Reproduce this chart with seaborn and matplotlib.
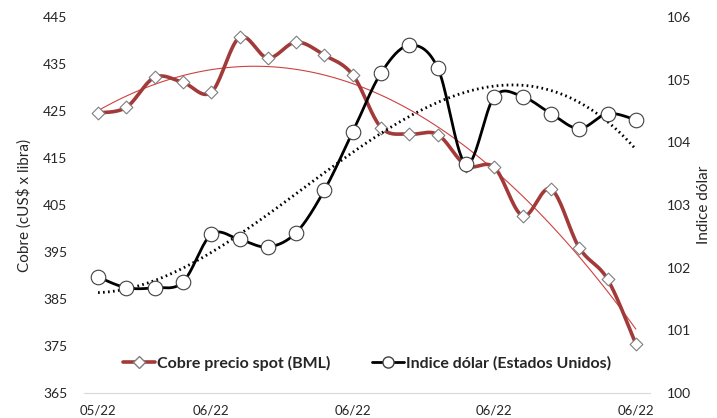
import numpy as np
import pandas as pd
import matplotlib
matplotlib.use('Agg')
import matplotlib.pyplot as plt
import seaborn as sns
from matplotlib.lines import Line2D

# data
cobre = [424.6, 425.8, 432.2, 431.1, 429.0, 440.7, 436.3, 439.7, 436.9, 432.7,
         421.5, 420.1, 420.0, 413.4, 413.0, 402.7, 408.4, 395.9, 389.2, 375.4]
dolar = [101.85, 101.68, 101.68, 101.77, 102.53, 102.45, 102.33, 102.56, 103.24, 104.17,
         105.11, 105.55, 105.19, 103.65, 104.73, 104.73, 104.46, 104.22, 104.46, 104.36]
tick_pos = [0, 4, 9, 14, 19]
tick_labels = ['05/22', '06/22', '06/22', '06/22', '06/22']

sns.set_style('white')
plt.rcParams['font.family'] = ['Lato', 'DejaVu Sans']

x = np.arange(len(cobre))
df = pd.DataFrame({'x': x, 'cobre': cobre, 'dolar': dolar})


def smooth(xv, yv, n=20):
    # Excel-style smoothed line (Catmull-Rom between the points)
    p = np.column_stack([xv, yv]).astype(float)
    p = np.vstack([p[0], p, p[-1]])
    out = []
    t = np.linspace(0, 1, n, endpoint=False)[:, None]
    for i in range(1, len(p) - 2):
        p0, p1, p2, p3 = p[i - 1], p[i], p[i + 1], p[i + 2]
        c1 = p1 + (p2 - p0) / 6
        c2 = p2 - (p3 - p1) / 6
        seg = ((1 - t) ** 3) * p1 + 3 * ((1 - t) ** 2) * t * c1 + 3 * (1 - t) * t ** 2 * c2 + t ** 3 * p2
        out.append(seg)
    out.append(p[-2][None, :])
    out = np.vstack(out)
    return out[:, 0], out[:, 1]


red = '#a33a3a'
fig = plt.figure(figsize=(7.17, 4.18), dpi=100)
ax = fig.add_axes([0.117, 0.06, 0.7896, 0.899])
ax2 = ax.twinx()

# copper series
sx, sy = smooth(df['x'], df['cobre'])
sns.lineplot(x=sx, y=sy, ax=ax, color=red, lw=2.6, sort=False, zorder=3)
sns.regplot(x='x', y='cobre', data=df, order=2, ci=None, scatter=False, ax=ax,
            line_kws={'color': '#d04040', 'lw': 0.8, 'zorder': 2})
ax.scatter(df['x'], df['cobre'], marker='D', s=42, facecolor='white',
           edgecolor='#7f7f7f', linewidth=0.8, zorder=4)

# dollar series
dx, dy = smooth(df['x'], df['dolar'])
sns.lineplot(x=dx, y=dy, ax=ax2, color='black', lw=2.0, sort=False, zorder=3)
sns.regplot(x='x', y='dolar', data=df, order=3, ci=None, scatter=False, ax=ax2,
            line_kws={'color': 'black', 'lw': 2.0, 'ls': (0, (0.6, 1.2)), 'zorder': 2})
ax2.scatter(df['x'], df['dolar'], marker='o', s=110, facecolor='white',
            edgecolor='#404040', linewidth=0.8, zorder=4)

ax.set_xlim(-0.5, 19.5)
ax.set_ylim(365, 445)
ax.set_yticks(np.arange(365, 446, 10))
ax2.set_ylim(100, 106)
ax2.set_yticks(np.arange(100, 107, 1))

ax.set_xticks(tick_pos)
ax.set_xticklabels(tick_labels)
ax.set_xticks(np.arange(-0.5, 20, 1), minor=True)
ax.tick_params(axis='x', which='major', length=0, pad=8, labelsize=9.5, colors='#262626')
ax.tick_params(axis='x', which='minor', length=4, color='#d9d9d9', direction='out')
ax.tick_params(axis='y', length=0, pad=12, labelsize=10, colors='#262626')
ax2.tick_params(axis='y', length=0, pad=12, labelsize=10, colors='#262626')
ax.set_xlabel('')
ax.set_ylabel('Cobre (cUS$ x libra)', fontsize=11, color='#262626', labelpad=8)
ax2.set_ylabel('Indice dólar', fontsize=11, color='#262626', labelpad=4)

for a in (ax, ax2):
    for s in a.spines.values():
        s.set_visible(False)
ax.spines['bottom'].set_visible(True)
ax.spines['bottom'].set_color('#d9d9d9')

handles = [
    Line2D([], [], color=red, lw=2.6, marker='D', markersize=6,
           markerfacecolor='white', markeredgecolor='#7f7f7f'),
    Line2D([], [], color='black', lw=2.0, marker='o', markersize=8,
           markerfacecolor='white', markeredgecolor='#404040'),
]
leg = ax.legend(handles, ['Cobre precio spot (BML)', 'Indice dólar (Estados Unidos)'],
                loc='lower center', bbox_to_anchor=(0.5, 0.02), ncol=2, frameon=False,
                handlelength=2.0, handletextpad=0.15, columnspacing=2.6,
                prop={'weight': 'bold', 'size': 11.5})
for t in leg.get_texts():
    t.set_color('#262626')

fig.savefig('out.png', dpi=100)
